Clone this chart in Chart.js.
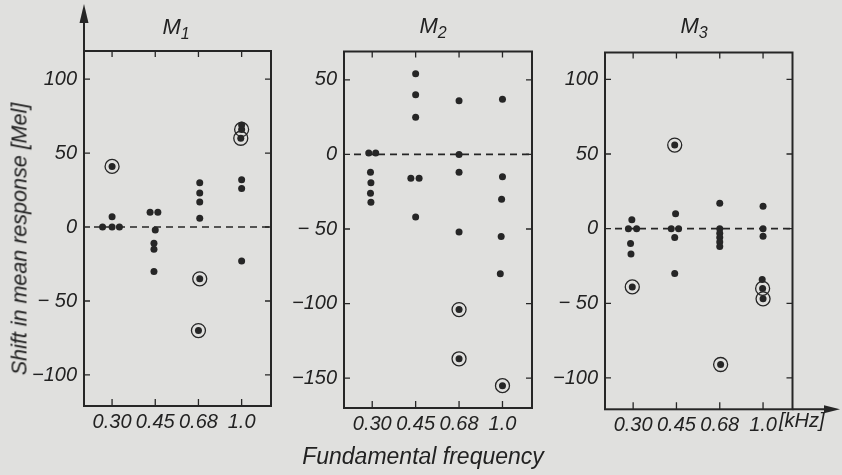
<!DOCTYPE html>
<html>
<head>
<meta charset="UTF-8">
<title>Shift in mean response</title>
<script src="https://cdn.jsdelivr.net/npm/chart.js@4.4.1/dist/chart.umd.min.js"></script>
<style>
  html, body { margin: 0; padding: 0; }
  body { width: 842px; height: 475px; background: #e0e0de; position: relative; overflow: hidden;
         font-family: 'Liberation Sans', 'DejaVu Sans', sans-serif; font-style: italic; color: #222; }
  canvas { position: absolute; left: 0; top: 0; }
  .lbl { position: absolute; white-space: nowrap; transform: translate(-50%, -50%); }
  .panel { font-size: 22px; }
  .panel sub { font-size: 16px; vertical-align: -5px; }
  #ytitle { left: 20px; top: 239px; font-size: 21.5px; transform: translate(-50%, -50%) rotate(-90deg); }
  #xtitle { left: 423px; top: 456px; font-size: 23px; }
  #khz { position: absolute; left: 779px; top: 409px; font-size: 20px;
         font-family: 'Liberation Sans Narrow', 'Liberation Sans', sans-serif; }
</style>
</head>
<body>
<canvas id="m1" width="842" height="475"></canvas>
<canvas id="m2" width="842" height="475"></canvas>
<canvas id="m3" width="842" height="475"></canvas>

<div class="lbl panel" style="left:176px;top:28px">M<sub>1</sub></div>
<div class="lbl panel" style="left:433px;top:27px">M<sub>2</sub></div>
<div class="lbl panel" style="left:694px;top:27px">M<sub>3</sub></div>
<div class="lbl" id="ytitle">Shift in mean response [Mel]</div>
<div class="lbl" id="xtitle">Fundamental frequency</div>
<div id="khz">[kHz]</div>

<script>
// fundamental frequency categories (kHz)
var freqLabels = ['0.30', '0.45', '0.68', '1.0'];

// points: [frequency index, shift in Mel, small sideways offset seen in the plot]
var m1Dots = [[0, 7, 0], [0, 0, -0.22], [0, 0, 0], [0, 0, 0.17],
              [1, 10, -0.12], [1, 10, 0.06], [1, -2, 0], [1, -11, -0.03], [1, -15, -0.03], [1, -30, -0.03],
              [2, 30, 0.03], [2, 23, 0.03], [2, 17, 0.03], [2, 6, 0.03],
              [3, 69, 0], [3, 32, 0], [3, 26, 0], [3, -23, 0]];
var m1Circled = [[0, 41, 0], [2, -35, 0.03], [2, -70, 0], [3, 66, 0], [3, 60, -0.02]];

var m2Dots = [[0, 1, -0.08], [0, 1, 0.08], [0, -12, -0.04], [0, -19, -0.03], [0, -26, -0.04], [0, -32, -0.03],
              [1, 54, 0], [1, 40, 0], [1, 25, 0], [1, -16, -0.11], [1, -16, 0.08], [1, -42, 0],
              [2, 36, 0], [2, 0, 0], [2, -12, 0], [2, -52, 0],
              [3, 37, 0], [3, -15, 0], [3, -30, -0.02], [3, -55, -0.03], [3, -80, -0.05]];
var m2Circled = [[2, -104, 0], [2, -137, 0], [3, -155, 0]];

var m3Dots = [[0, 6, -0.03], [0, 0, -0.11], [0, 0, 0.08], [0, -10, -0.06], [0, -17, -0.05],
              [1, 10, -0.02], [1, 0, -0.12], [1, 0, 0.05], [1, -6, -0.04], [1, -30, -0.04],
              [2, 17, 0], [2, 0, 0], [2, -3, 0], [2, -6, 0], [2, -9, 0], [2, -12, 0],
              [3, 15, 0], [3, 0, 0], [3, -5, 0], [3, -34, -0.02]];
var m3Circled = [[0, -39, -0.02], [1, 56, -0.04], [2, -91, 0.02], [3, -40, -0.01], [3, -47, 0]];

// y tick labels per panel
var m1Ticks = [-100, -50, 0, 50, 100];
var m2Ticks = [-150, -100, -50, 0, 50];
var m3Ticks = [-100, -50, 0, 50, 100];

var ink = '#262626';

Chart.defaults.font.family = "'Liberation Sans Narrow', 'Liberation Sans', sans-serif";
Chart.defaults.font.style = 'italic';
Chart.defaults.font.size = 20;
Chart.defaults.color = '#222';

function toXY(list) {
  return list.map(function (p) { return { x: p[0] + p[2], y: p[1] }; });
}

function yLabel(v) {
  if (v < 0) return (Math.abs(v) < 100 ? '\u2212 ' : '\u2212') + Math.abs(v);
  return String(v);
}

// frame, inward tick marks, dashed zero line and axis arrows
var framePlugin = {
  id: 'frame',
  beforeDatasetsDraw: function (chart, args, opts) {
    var ctx = chart.ctx, a = chart.chartArea;
    var xs = chart.scales.x, ys = chart.scales.y;
    ctx.save();
    ctx.strokeStyle = ink;
    ctx.fillStyle = ink;

    // dashed zero line
    var y0 = ys.getPixelForValue(0);
    ctx.lineWidth = 1.6;
    ctx.setLineDash([7, 5]);
    ctx.beginPath();
    ctx.moveTo(a.left + 10, y0);
    ctx.lineTo(a.right - 2, y0);
    ctx.stroke();
    ctx.setLineDash([]);

    // box
    ctx.lineWidth = 2;
    ctx.strokeRect(a.left, a.top, a.right - a.left, a.bottom - a.top);

    // inward ticks
    ctx.lineWidth = 1.3;
    ctx.beginPath();
    ys.ticks.forEach(function (t) {
      var py = ys.getPixelForValue(t.value);
      ctx.moveTo(a.left, py); ctx.lineTo(a.left + 6, py);
      ctx.moveTo(a.right, py); ctx.lineTo(a.right - 6, py);
    });
    xs.ticks.forEach(function (t) {
      var px = xs.getPixelForValue(t.value);
      ctx.moveTo(px, a.bottom); ctx.lineTo(px, a.bottom - 7);
      ctx.moveTo(px, a.top); ctx.lineTo(px, a.top + 6);
    });
    ctx.stroke();

    ctx.lineWidth = 2;
    if (opts.arrowUp) {
      ctx.beginPath();
      ctx.moveTo(a.left, a.top);
      ctx.lineTo(a.left, 20);
      ctx.stroke();
      ctx.beginPath();
      ctx.moveTo(a.left, 4);
      ctx.lineTo(a.left - 4.5, 23);
      ctx.lineTo(a.left + 4.5, 23);
      ctx.closePath();
      ctx.fill();
    }
    if (opts.arrowRight) {
      ctx.beginPath();
      ctx.moveTo(a.right, a.bottom);
      ctx.lineTo(828, a.bottom);
      ctx.stroke();
      ctx.beginPath();
      ctx.moveTo(840, a.bottom);
      ctx.lineTo(824, a.bottom - 4);
      ctx.lineTo(824, a.bottom + 4);
      ctx.closePath();
      ctx.fill();
    }
    ctx.restore();
  }
};

function makePanel(id, dots, circled, yTicks, yMin, yMax, pad, frameOpts) {
  return new Chart(document.getElementById(id), {
    type: 'scatter',
    data: {
      datasets: [
        { data: toXY(dots), pointRadius: 3.5, pointBorderWidth: 0, pointBackgroundColor: ink },
        { data: toXY(circled), pointRadius: 3.5, pointBorderWidth: 0, pointBackgroundColor: ink },
        { data: toXY(circled), pointRadius: 7, pointBorderWidth: 1.3,
          pointBorderColor: ink, pointBackgroundColor: 'rgba(0,0,0,0)' }
      ]
    },
    options: {
      responsive: false,
      animation: false,
      events: [],
      layout: { padding: pad },
      plugins: { legend: { display: false }, tooltip: { enabled: false }, frame: frameOpts },
      scales: {
        x: {
          type: 'linear', min: -0.65, max: 3.68,
          grid: { display: false, drawTicks: false },
          border: { display: false },
          afterBuildTicks: function (s) { s.ticks = freqLabels.map(function (l, i) { return { value: i }; }); },
          afterFit: function (s) { s.height = 40; },
          ticks: { padding: 4, maxRotation: 0, autoSkip: false,
                   callback: function (v) { return freqLabels[v]; } }
        },
        y: {
          type: 'linear', min: yMin, max: yMax,
          grid: { display: false, drawTicks: false },
          border: { display: false },
          afterBuildTicks: function (s) { s.ticks = yTicks.map(function (v) { return { value: v }; }); },
          afterFit: function (s) { s.width = 60; },
          ticks: { padding: 7, callback: yLabel }
        }
      }
    },
    plugins: [framePlugin]
  });
}

makePanel('m1', m1Dots, m1Circled, m1Ticks, -121, 119,
  { left: 24, right: 571, top: 51, bottom: 29 }, { arrowUp: true });
makePanel('m2', m2Dots, m2Circled, m2Ticks, -170, 69,
  { left: 284, right: 310, top: 51.5, bottom: 27 }, {});
makePanel('m3', m3Dots, m3Circled, m3Ticks, -121, 118,
  { left: 545, right: 49.5, top: 52.5, bottom: 25.7 }, { arrowRight: true });
</script>
</body>
</html>
